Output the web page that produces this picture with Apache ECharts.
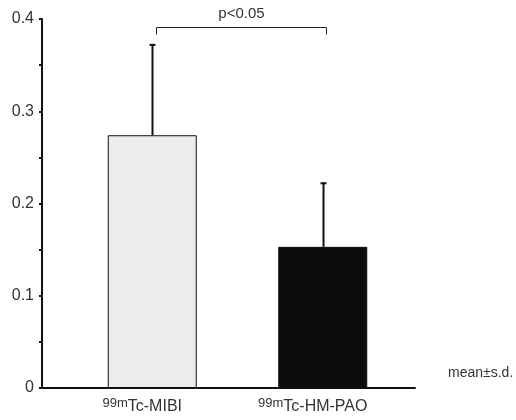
<!DOCTYPE html>
<html>
<head>
<meta charset="utf-8">
<script src="https://cdn.jsdelivr.net/npm/echarts@6/dist/echarts.min.js"></script>
<style>html,body{margin:0;padding:0;background:#fff;}#c{width:516px;height:420px;}</style>
</head>
<body>
<div id="c"></div>
<script>
var categories = ['Tc-MIBI', 'Tc-HM-PAO'];
var superscripts = ['99m', '99m'];
var means = [0.274, 0.153];
var sds = [0.099, 0.070];
var yTicks = [0, 0.05, 0.1, 0.15, 0.2, 0.25, 0.3, 0.35, 0.4];
var bracketValue = 0.391;
var pText = 'p<0.05';
var noteText = 'mean\u00b1s.d.';

var chart = echarts.init(document.getElementById('c'), null, {renderer: 'canvas'});
var font = '"Liberation Sans", Arial, Helvetica, sans-serif';
var ink = '#333';

var option = {
  animation: false,
  backgroundColor: '#fff',
  grid: [
    {left: 42, right: 101, top: 19, bottom: 32},
    {left: 67, right: 108, top: 19, bottom: 32}
  ],
  xAxis: [
    {gridIndex: 0, type: 'category', data: categories, boundaryGap: true,
     axisLine: {lineStyle: {color: '#111', width: 2}}, axisTick: {show: false}, axisLabel: {show: false}},
    {gridIndex: 1, type: 'category', data: categories, boundaryGap: true,
     axisLine: {show: false}, axisTick: {show: false},
     axisLabel: {
       margin: 9,
       padding: [0, 20, 0, 0],
       formatter: function (v, i) { return '{s|' + superscripts[i] + '}{b|' + v + '}'; },
       rich: {
         s: {fontFamily: font, fontSize: 13, color: ink, padding: [0, 0, 7, 0]},
         b: {fontFamily: font, fontSize: 16, color: ink}
       }
     }}
  ],
  yAxis: [
    {gridIndex: 0, type: 'value', min: 0, max: yTicks[yTicks.length - 1], interval: yTicks[1] - yTicks[0],
     axisLine: {show: true, lineStyle: {color: '#111', width: 2}},
     axisTick: {show: true, length: 3, lineStyle: {color: '#111', width: 2}},
     splitLine: {show: false},
     axisLabel: {
       margin: 8, fontFamily: font, fontSize: 16, color: ink,
       formatter: function (v) {
         var k = Math.round(v * 100);
         if (k % 10 !== 0) return '';
         return k === 0 ? '0' : (k / 100).toString();
       }
     }},
    {gridIndex: 1, type: 'value', min: 0, max: yTicks[yTicks.length - 1], show: false}
  ],
  series: [
    {
      type: 'bar', xAxisIndex: 1, yAxisIndex: 1, barWidth: 89,
      data: means.map(function (m, i) {
        return {value: m, itemStyle: i === 0
          ? {color: '#ececec', borderColor: '#111', borderWidth: 1}
          : {color: '#0d0d0d', borderColor: '#0d0d0d', borderWidth: 1}};
      }),
      z: 2
    },
    {
      type: 'custom', xAxisIndex: 1, yAxisIndex: 1, z: 3,
      data: means.map(function (m, i) { return [i, m, m + sds[i]]; }),
      renderItem: function (params, api) {
        var x = api.value(0);
        var p0 = api.coord([x, api.value(1)]);
        var p1 = api.coord([x, api.value(2)]);
        var cx = Math.round(p0[0]) + 0.5;
        return {
          type: 'group',
          children: [
            {type: 'line', shape: {x1: cx, y1: p0[1], x2: cx, y2: p1[1]}, style: {stroke: '#111', lineWidth: 2}},
            {type: 'line', shape: {x1: cx - 3, y1: p1[1] + 1, x2: cx + 3, y2: p1[1] + 1}, style: {stroke: '#111', lineWidth: 2}}
          ]
        };
      }
    },
    {
      type: 'custom', xAxisIndex: 1, yAxisIndex: 1, z: 3,
      data: [[0, 1, bracketValue]],
      renderItem: function (params, api) {
        var a = api.coord([api.value(0), api.value(2)]);
        var b = api.coord([api.value(1), api.value(2)]);
        var xa = Math.round(a[0]) + 4.5, xb = Math.round(b[0]) + 3.5, y = Math.round(a[1]) + 0.5;
        return {
          type: 'group',
          children: [
            {type: 'polyline', shape: {points: [[xa, y + 7], [xa, y], [xb, y], [xb, y + 7]]}, style: {stroke: '#222', lineWidth: 1, fill: null}},
            {type: 'text', style: {x: (xa + xb) / 2, y: y - 6, text: pText, fontFamily: font, fontSize: 15, fill: ink, align: 'center', verticalAlign: 'bottom'}}
          ]
        };
      }
    }
  ],
  graphic: [
    {type: 'text', left: 448, top: 366, style: {text: noteText, fontFamily: font, fontSize: 14, fill: ink}}
  ]
};
chart.setOption(option);
</script>
</body>
</html>
